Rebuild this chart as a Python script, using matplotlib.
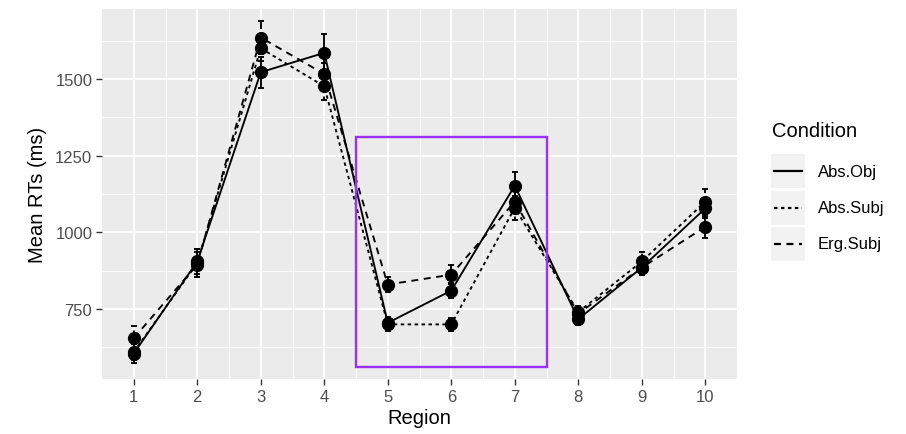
import matplotlib
matplotlib.use("Agg")
import matplotlib.pyplot as plt
from matplotlib.lines import Line2D
from matplotlib.patches import Rectangle
import numpy as np

regions = [1, 2, 3, 4, 5, 6, 7, 8, 9, 10]
conditions = ["Abs.Obj", "Abs.Subj", "Erg.Subj"]
abs_obj = [605, 905, 1522, 1585, 705, 810, 1152, 717, 885, 1078]
abs_subj = [610, 900, 1600, 1476, 700, 700, 1080, 740, 905, 1100]
erg_subj = [655, 895, 1635, 1516, 830, 862, 1100, 735, 885, 1018]
abs_obj_se = [30, 40, 50, 60, 20, 25, 45, 20, 25, 30]
abs_subj_se = [25, 45, 40, 45, 20, 20, 40, 20, 30, 40]
erg_subj_se = [40, 40, 55, 35, 25, 30, 35, 25, 25, 35]
box_x = (4.5, 7.5)
box_y = (560, 1312)

plt.rcParams['font.family'] = ['Liberation Sans', 'DejaVu Sans']
plt.rcParams['lines.scale_dashes'] = False

styles = ["-", (0, (2.5, 2.5)), (0, (5, 4))]
means = [abs_obj, abs_subj, erg_subj]
ses = [abs_obj_se, abs_subj_se, erg_subj_se]

fig = plt.figure(figsize=(9.06, 4.35), dpi=100)
ax = fig.add_axes([102/906, 1 - 380/435, (737-102)/906, (380-10)/435])
ax.set_facecolor("#EBEBEB")

x = np.array(regions)
for m, s, ls in zip(means, ses, styles):
    m = np.array(m); s = np.array(s)
    ax.plot(x, m, color="black", lw=1.35, linestyle=ls, zorder=3)
    ax.vlines(x, m - s, m + s, color="black", lw=1.35, linestyles=[ls], zorder=3)
    ax.hlines(m - s, x - 0.05, x + 0.05, color="black", lw=1.35, zorder=3)
    ax.hlines(m + s, x - 0.05, x + 0.05, color="black", lw=1.35, zorder=3)
    ax.plot(x, m, "o", color="black", ms=8.5, zorder=4)

ax.add_patch(Rectangle((box_x[0], box_y[0]), box_x[1] - box_x[0], box_y[1] - box_y[0],
                       fill=False, edgecolor="#9B30FF", lw=1.7, zorder=5))

ax.set_xlim(0.5, 10.5)
ax.set_ylim(522, 1728)
ax.set_xticks(regions)
ax.set_xticks(np.arange(1.5, 10, 1), minor=True)
ax.set_yticks([750, 1000, 1250, 1500])
ax.set_yticks([625, 875, 1125, 1375, 1625], minor=True)
ax.grid(which="major", color="white", lw=1.3)
ax.grid(which="minor", color="white", lw=0.6)
ax.set_axisbelow(True)
for sp in ax.spines.values():
    sp.set_visible(False)
ax.tick_params(which="major", length=4, width=1, color="#333333",
               labelcolor="#4D4D4D", labelsize=12, pad=3)
ax.tick_params(which="minor", length=0)
ax.set_xlabel("Region", fontsize=14.5, labelpad=3)
ax.set_ylabel("Mean RTs (ms)", fontsize=14.5, labelpad=6)

# legend drawn by hand in figure pixels
fig.text(772/906, 1 - 132/435, "Condition", fontsize=14.5, va="center", ha="left")
key_tops = [155, 192, 228]
for cond, ls, top in zip(conditions, styles, key_tops):
    fig.add_artist(Rectangle((771/906, 1 - (top + 34)/435), 34/906, 34/435,
                             transform=fig.transFigure, facecolor="#F2F2F2",
                             edgecolor="none"))
    yc = 1 - (top + 17)/435
    fig.add_artist(Line2D([774/906, 802/906], [yc, yc], transform=fig.transFigure,
                          color="black", lw=1.6, linestyle=ls))
    fig.text(818/906, yc, cond, fontsize=12, va="center", ha="left")

fig.savefig("out.png", dpi=100)
